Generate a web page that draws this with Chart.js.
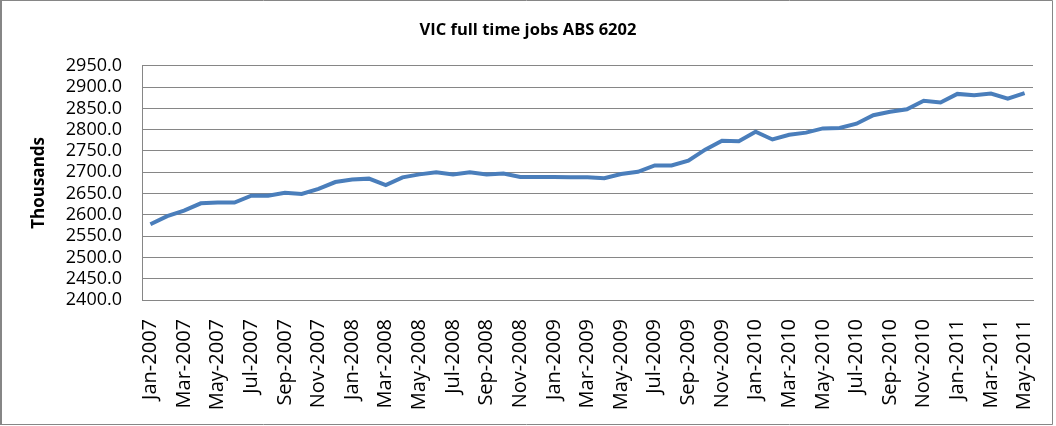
<!DOCTYPE html>
<html>
<head>
<meta charset="utf-8">
<title>VIC full time jobs ABS 6202</title>
<script src="https://cdn.jsdelivr.net/npm/chart.js@4.4.1/dist/chart.umd.min.js"></script>
<style>
    html, body { margin: 0; padding: 0; background: #fff; }
    #wrap { width: 1056px; height: 426px; }
</style>
</head>
<body>
<div id="wrap"><canvas id="jobsChart" width="1056" height="426"></canvas></div>
<script>
// month labels, Jan-2007 .. May-2011
const months = [
    'Jan-2007', 'Feb-2007', 'Mar-2007', 'Apr-2007', 'May-2007', 'Jun-2007',
    'Jul-2007', 'Aug-2007', 'Sep-2007', 'Oct-2007', 'Nov-2007', 'Dec-2007',
    'Jan-2008', 'Feb-2008', 'Mar-2008', 'Apr-2008', 'May-2008', 'Jun-2008',
    'Jul-2008', 'Aug-2008', 'Sep-2008', 'Oct-2008', 'Nov-2008', 'Dec-2008',
    'Jan-2009', 'Feb-2009', 'Mar-2009', 'Apr-2009', 'May-2009', 'Jun-2009',
    'Jul-2009', 'Aug-2009', 'Sep-2009', 'Oct-2009', 'Nov-2009', 'Dec-2009',
    'Jan-2010', 'Feb-2010', 'Mar-2010', 'Apr-2010', 'May-2010', 'Jun-2010',
    'Jul-2010', 'Aug-2010', 'Sep-2010', 'Oct-2010', 'Nov-2010', 'Dec-2010',
    'Jan-2011', 'Feb-2011', 'Mar-2011', 'Apr-2011', 'May-2011'
];

// full time jobs, thousands
const fullTimeJobs = [
    2578, 2597, 2610, 2627, 2629, 2629, 2645, 2645, 2652, 2649, 2661, 2677,
    2683, 2685, 2670, 2688, 2695, 2700, 2695, 2700, 2695, 2697, 2689, 2689,
    2689, 2688, 2688, 2686, 2696, 2701, 2716, 2716, 2727, 2753, 2774, 2773,
    2795, 2777, 2788, 2793, 2803, 2804, 2814, 2834, 2842, 2848, 2868, 2864,
    2884, 2881, 2885, 2873, 2886
];

const yMin = 2400;
const yMax = 2950;
const yStep = 50;

const gridGrey = '#868686';
const lineBlue = '#4a7ebb';

// grey frame round the whole chart area, title centred on the full width
const framePlugin = {
    id: 'frame',
    afterLayout(chart) {
        const t = chart.titleBlock;
        if (t) {
            t.left = 0;
            t.right = 1056;
            t.width = 1056;
        }
    },
    afterDraw(chart) {
        const ctx = chart.ctx;
        ctx.save();
        ctx.strokeStyle = gridGrey;
        ctx.lineWidth = 1;
        ctx.beginPath();
        ctx.moveTo(0.5, 0.5);
        ctx.lineTo(1052.5, 0.5);
        ctx.lineTo(1052.5, 424.5);
        ctx.lineTo(0.5, 424.5);
        ctx.closePath();
        ctx.stroke();
        ctx.fillStyle = gridGrey;
        ctx.fillRect(0, 0, 2, 425);
        ctx.restore();
    }
};

const canvas = document.getElementById('jobsChart');
new Chart(canvas.getContext('2d'), {
    type: 'line',
    data: {
        labels: months,
        datasets: [{
            label: 'VIC full time jobs',
            data: fullTimeJobs,
            borderColor: lineBlue,
            borderWidth: 4,
            pointRadius: 0,
            tension: 0,
            fill: false
        }]
    },
    options: {
        responsive: false,
        animation: false,
        devicePixelRatio: 1,
        layout: { padding: { left: 0, right: 23, top: 0, bottom: 0 } },
        plugins: {
            legend: { display: false },
            tooltip: { enabled: false },
            title: {
                display: true,
                text: 'VIC full time jobs ABS 6202',
                color: '#000',
                font: { family: 'Open Sans', size: 16.5, weight: 'bold' },
                padding: { top: 20, bottom: 26 }
            }
        },
        scales: {
            x: {
                offset: true,
                grid: { display: false, drawTicks: false },
                border: { display: true, color: gridGrey },
                ticks: {
                    autoSkip: false,
                    maxRotation: 90,
                    minRotation: 90,
                    padding: 19,
                    color: '#000',
                    font: { family: 'Open Sans', size: 20 },
                    callback: (value, index) => index % 2 === 0 ? months[index] : ''
                },
                afterFit: (scale) => {
                    scale.height = 126;
                    scale.paddingLeft = 0;
                    scale.paddingRight = 0;
                }
            },
            y: {
                min: yMin,
                max: yMax,
                grid: { color: gridGrey, drawTicks: false },
                border: { display: true, color: gridGrey },
                ticks: {
                    stepSize: yStep,
                    autoSkip: false,
                    padding: 20,
                    color: '#000',
                    font: { family: 'Open Sans', size: 18 },
                    callback: (value) => value.toFixed(1)
                },
                title: {
                    display: true,
                    text: 'Thousands',
                    color: '#000',
                    font: { family: 'Open Sans', size: 17, weight: 'bold' },
                    padding: { top: 29, bottom: 0 }
                },
                afterFit: (scale) => { scale.width = 142; }
            }
        }
    },
    plugins: [framePlugin]
});
</script>
</body>
</html>
